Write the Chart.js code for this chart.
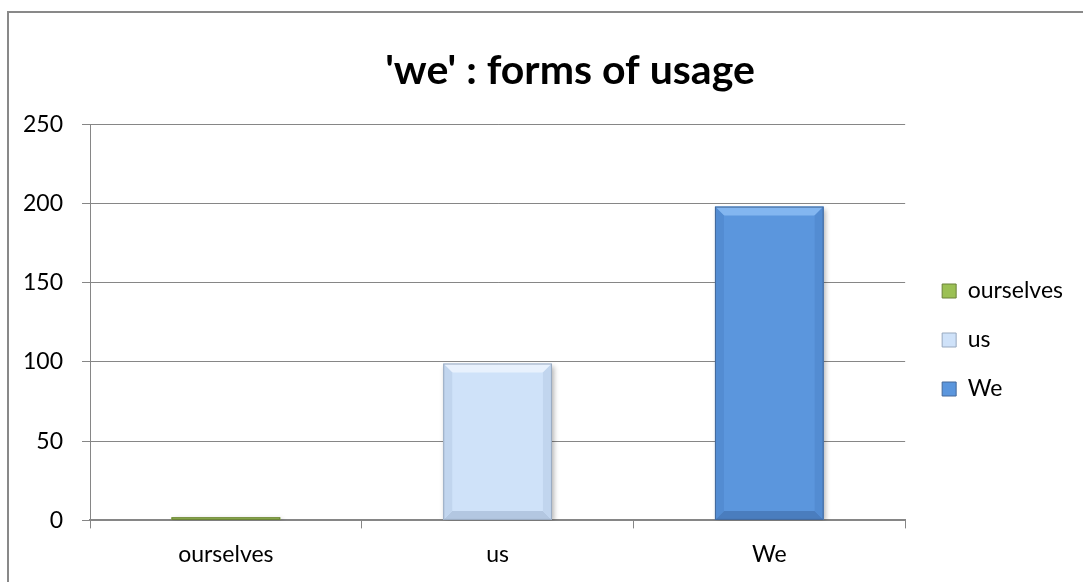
<!DOCTYPE html>
<html>
<head>
<meta charset="utf-8">
<title>'we' : forms of usage</title>
<script src="https://cdn.jsdelivr.net/npm/chart.js@4.4.1/dist/chart.umd.min.js"></script>
<style>
    html, body { margin: 0; padding: 0; background: #fff; overflow: hidden; }
    #frame {
        position: absolute; left: 7px; top: 11px; width: 1200px; height: 700px;
        border-left: 2px solid #898989; border-top: 2px solid #898989;
    }
    #wrap { position: absolute; left: 0; top: 0; width: 1083px; height: 582px; }
</style>
</head>
<body>
<div id="frame"></div>
<div id="wrap"><canvas id="mycanvas"></canvas></div>
<script>
var chartTitle = "'we' : forms of usage";
var forms = ["ourselves", "us", "We"];
var counts = [2, 99, 198];
var yTicks = [0, 50, 100, 150, 200, 250];

// fill, lighter top bevel, darker sides, darkest bottom, outline
var palette = [
    { fill: "#9BC054", top: "#BCDC82", side: "#8DB24B", bottom: "#7A9A3E", line: "#6B8238" },
    { fill: "#CFE2F9", top: "#E8F1FD", side: "#C1D5EE", bottom: "#B3C7E1", line: "#98A9BF" },
    { fill: "#5B96DD", top: "#83B6F0", side: "#538CD2", bottom: "#4A7DBE", line: "#44699A" }
];

// where the title and legend sit, relative to what the layout gives them
var titleShift = 37;
var legendShift = { x: 11, y: 27 };

var ctx = document.getElementById("mycanvas");

var nudge = {
    id: "nudge",
    afterLayout: function (chart) {
        var t = chart.titleBlock;
        if (t) { t.left += titleShift; t.right += titleShift; }
        var l = chart.legend;
        if (l) {
            l.left += legendShift.x; l.right += legendShift.x;
            l.top += legendShift.y; l.bottom += legendShift.y;
        }
    }
};

// soft drop shadow under the bars
var barShadow = {
    id: "barShadow",
    beforeDatasetsDraw: function (chart) {
        var c = chart.ctx;
        c.save();
        c.shadowColor = "rgba(0,0,0,0.3)";
        c.shadowBlur = 5;
        c.shadowOffsetX = 2;
        c.shadowOffsetY = 2;
    },
    afterDatasetsDraw: function (chart) {
        chart.ctx.restore();
    }
};

// bevelled edges on each bar
var bevel = {
    id: "bevel",
    afterDatasetsDraw: function (chart) {
        var c = chart.ctx;
        var meta = chart.getDatasetMeta(0);
        meta.data.forEach(function (bar, i) {
            var p = bar.getProps(["x", "y", "width", "base"], true);
            var l = p.x - p.width / 2, r = p.x + p.width / 2;
            var t = Math.min(p.y, p.base), b = Math.max(p.y, p.base);
            var h = b - t;
            var k = Math.min(9, h / 2);
            var col = palette[i];
            function quad(pts, color) {
                c.beginPath();
                c.moveTo(pts[0], pts[1]);
                for (var j = 2; j < pts.length; j += 2) c.lineTo(pts[j], pts[j + 1]);
                c.closePath();
                c.fillStyle = color;
                c.fill();
            }
            c.save();
            quad([l, t, r, t, r - k, t + k, l + k, t + k], col.top);
            quad([l, b, r, b, r - k, b - k, l + k, b - k], col.bottom);
            quad([l, t, l + k, t + k, l + k, b - k, l, b], col.side);
            quad([r, t, r - k, t + k, r - k, b - k, r, b], col.side);
            c.strokeStyle = col.line;
            c.lineWidth = 1;
            c.strokeRect(l + 0.5, t + 0.5, p.width - 1, h - 1);
            c.restore();
        });
    }
};

var myChart = new Chart(ctx, {
    type: "bar",
    data: {
        labels: forms,
        datasets: [{
            label: "count",
            data: counts,
            backgroundColor: palette.map(function (p) { return p.fill; }),
            borderWidth: 0,
            categoryPercentage: 1,
            barPercentage: 0.4
        }]
    },
    plugins: [nudge, barShadow, bevel],
    options: {
        responsive: true,
        maintainAspectRatio: false,
        animation: false,
        layout: { padding: { left: 4, right: 21, top: 46, bottom: 2 } },
        plugins: {
            title: {
                display: true,
                text: chartTitle,
                color: "#000",
                font: { family: "Lato", size: 41, weight: "bold" },
                padding: { top: 0, bottom: 29 }
            },
            legend: {
                position: "right",
                align: "center",
                labels: {
                    color: "#000",
                    font: { family: "Lato", size: 23 },
                    boxWidth: 14,
                    boxHeight: 14,
                    padding: 26,
                    generateLabels: function (chart) {
                        return forms.map(function (name, i) {
                            return {
                                text: name,
                                fillStyle: palette[i].fill,
                                strokeStyle: palette[i].line,
                                lineWidth: 1,
                                index: i
                            };
                        });
                    }
                },
                onClick: function () {}
            },
            tooltip: { enabled: false }
        },
        scales: {
            x: {
                grid: {
                    display: true,
                    offset: true,
                    drawOnChartArea: false,
                    drawTicks: true,
                    tickLength: 8,
                    color: "#868686"
                },
                border: { display: true, color: "#868686", width: 2 },
                ticks: {
                    color: "#000",
                    font: { family: "Lato", size: 23 },
                    padding: 12
                }
            },
            y: {
                min: 0,
                max: 250,
                afterBuildTicks: function (axis) {
                    axis.ticks = yTicks.map(function (v) { return { value: v }; });
                },
                grid: {
                    color: "#868686",
                    lineWidth: 1,
                    tickLength: 8
                },
                border: { display: true, color: "#868686", width: 1 },
                ticks: {
                    color: "#000",
                    font: { family: "Lato", size: 23 },
                    padding: 19
                }
            }
        }
    }
});
</script>
</body>
</html>
